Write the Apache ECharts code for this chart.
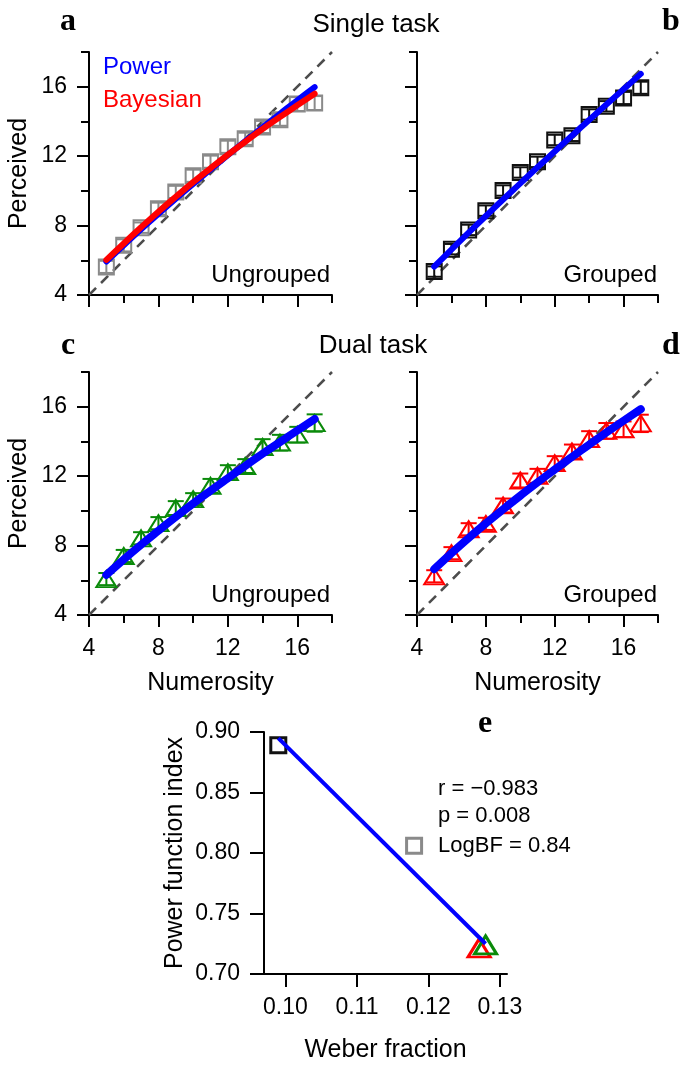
<!DOCTYPE html>
<html>
<head>
<meta charset="utf-8">
<script src="https://cdn.jsdelivr.net/npm/echarts@6/dist/echarts.min.js"></script>
<style>
html,body{margin:0;padding:0;background:#fff;}
#chart{width:685px;height:1075px;}
</style>
</head>
<body>
<div id="chart"></div>
<script>
// ---------------- data ----------------
const numerosity = [5, 6, 7, 8, 9, 10, 11, 12, 13, 14, 15, 16, 17];
const axisRange = [4, 18];
const majorTicks = [4, 8, 12, 16];
const minorTicks = [6, 10, 14, 18];

// panel a: single task, ungrouped (gray squares)
const singleUngrouped    = [5.62, 6.86, 7.88, 8.97, 9.94, 10.87, 11.68, 12.54, 13.0, 13.68, 14.1, 15.0, 15.06];
const singleUngroupedErr = [0.35, 0.35, 0.3, 0.35, 0.35, 0.35, 0.35, 0.35, 0.35, 0.35, 0.35, 0.4, 0.4];
const powerSingleUngrouped = [5.93, 6.87, 7.79, 8.68, 9.55, 10.40, 11.23, 12.06, 12.86, 13.66, 14.44, 15.22, 15.98];
const bayesSingleUngrouped = [6.02, 6.97, 7.90, 8.80, 9.66, 10.50, 11.30, 12.08, 12.83, 13.56, 14.25, 14.93, 15.60];

// panel b: single task, grouped (black squares)
const singleGrouped    = [5.35, 6.64, 7.75, 8.86, 10.02, 11.06, 11.67, 12.93, 13.17, 14.4, 14.87, 15.35, 15.94];
const singleGroupedErr = [0.3, 0.3, 0.3, 0.3, 0.3, 0.3, 0.3, 0.3, 0.3, 0.3, 0.3, 0.35, 0.35];
const powerSingleGrouped = [5.63, 6.62, 7.59, 8.55, 9.50, 10.43, 11.36, 12.27, 13.18, 14.08, 14.97, 15.86, 16.74];

// panel c: dual task, ungrouped (green triangles)
const dualUngrouped    = [6.07, 7.40, 8.42, 9.29, 10.16, 10.67, 11.44, 12.23, 12.58, 13.68, 13.93, 14.39, 15.06];
const dualUngroupedErr = [0.35, 0.35, 0.35, 0.35, 0.4, 0.35, 0.4, 0.4, 0.4, 0.45, 0.45, 0.45, 0.5];
const powerDualUngrouped = [6.31, 7.20, 8.05, 8.86, 9.65, 10.42, 11.16, 11.88, 12.59, 13.29, 13.96, 14.63, 15.29];

// panel d: dual task, grouped (red triangles)
const dualGrouped    = [6.23, 7.56, 8.94, 9.25, 10.31, 11.75, 12.02, 12.75, 13.42, 14.14, 14.61, 14.70, 15.04];
const dualGroupedErr = [0.35, 0.35, 0.35, 0.35, 0.4, 0.4, 0.4, 0.4, 0.4, 0.45, 0.45, 0.45, 0.5];
const powerDualGrouped = [6.64, 7.56, 8.44, 9.28, 10.09, 10.87, 11.64, 12.38, 13.10, 13.81, 14.51, 15.19, 15.86];

// panel e
const weberFraction = [0.099, 0.118, 0.1271, 0.1280];
const powerIndex    = [0.889, 0.806, 0.7215, 0.724];
const fitWeber = [0.099, 0.128];
const fitIndex = [0.895, 0.725];
const eXTicks = [0.10, 0.11, 0.12, 0.13];
const eYTicks = [0.70, 0.75, 0.80, 0.85, 0.90];
const eXRange = [0.097, 0.131];
const eYRange = [0.70, 0.90];

// ---------------- helpers ----------------
const SANS = "'Liberation Sans', Arial, sans-serif";
const SERIF = "'Liberation Serif', 'Times New Roman', serif";
const zip = (xs, ys) => xs.map((x, i) => [x, ys[i]]);
const zip3 = (xs, ys, es) => xs.map((x, i) => [x, ys[i], es[i]]);

const grids = [
  {left: 89,  top: 52,  width: 243, height: 243},
  {left: 417, top: 52,  width: 241, height: 243},
  {left: 89,  top: 372, width: 243, height: 243},
  {left: 417, top: 372, width: 241, height: 243},
  {left: 264, top: 732, width: 243, height: 242}
];

const axisLineStyle = {color: '#000', width: 2};
const labelStyle = {color: '#000', fontSize: 23, fontFamily: SANS};
const nameStyle = {color: '#000', fontSize: 25, fontFamily: SANS};

const xAxes = [], yAxes = [];
function addPanelAxes(gi, showXLabels, showYLabels, xName, yName) {
  xAxes.push({
    gridIndex: gi, type: 'value', min: axisRange[0], max: axisRange[1], position: 'bottom',
    axisLine: {show: true, onZero: false, lineStyle: axisLineStyle},
    axisTick: {show: true, length: 12, customValues: majorTicks, lineStyle: axisLineStyle},
    axisLabel: {show: showXLabels, customValues: majorTicks, margin: 22, ...labelStyle},
    splitLine: {show: false},
    name: xName, nameLocation: 'middle', nameGap: 56, nameTextStyle: nameStyle
  });
  xAxes.push({
    gridIndex: gi, type: 'value', min: axisRange[0], max: axisRange[1], position: 'bottom',
    axisLine: {show: false},
    axisTick: {show: true, length: 8, customValues: minorTicks, lineStyle: axisLineStyle},
    axisLabel: {show: false}, splitLine: {show: false}
  });
  yAxes.push({
    gridIndex: gi, type: 'value', min: axisRange[0], max: axisRange[1], position: 'left',
    axisLine: {show: true, onZero: false, lineStyle: axisLineStyle},
    axisTick: {show: true, length: 12, customValues: majorTicks, lineStyle: axisLineStyle},
    axisLabel: {show: showYLabels, customValues: majorTicks, margin: 22, ...labelStyle},
    splitLine: {show: false},
    name: yName, nameLocation: 'middle', nameGap: 57, nameTextStyle: nameStyle
  });
  yAxes.push({
    gridIndex: gi, type: 'value', min: axisRange[0], max: axisRange[1], position: 'left',
    axisLine: {show: false},
    axisTick: {show: true, length: 8, customValues: minorTicks, lineStyle: axisLineStyle},
    axisLabel: {show: false}, splitLine: {show: false}
  });
}
addPanelAxes(0, false, true, '', 'Perceived');
addPanelAxes(1, false, false, '', '');
addPanelAxes(2, true, true, 'Numerosity', 'Perceived');
addPanelAxes(3, true, false, 'Numerosity', '');

// panel e axes
xAxes.push({
  gridIndex: 4, type: 'value', min: eXRange[0], max: eXRange[1], position: 'bottom',
  axisLine: {show: true, onZero: false, lineStyle: axisLineStyle},
  axisTick: {show: true, length: 13, customValues: eXTicks, lineStyle: axisLineStyle},
  axisLabel: {customValues: eXTicks, margin: 22, formatter: v => v.toFixed(2), ...labelStyle},
  splitLine: {show: false},
  name: 'Weber fraction', nameLocation: 'middle', nameGap: 64, nameTextStyle: nameStyle
});
yAxes.push({
  gridIndex: 4, type: 'value', min: eYRange[0], max: eYRange[1], position: 'left',
  axisLine: {show: true, onZero: false, lineStyle: axisLineStyle},
  axisTick: {show: true, length: 14, customValues: eYTicks, lineStyle: axisLineStyle},
  axisLabel: {customValues: eYTicks, margin: 24, formatter: v => v.toFixed(2), ...labelStyle},
  splitLine: {show: false},
  name: 'Power function index', nameLocation: 'middle', nameGap: 76, nameTextStyle: nameStyle
});

function errRender(color, cap) {
  return function (params, api) {
    const x = api.value(0), y = api.value(1), e = api.value(2);
    const t = api.coord([x, y + e]);
    const b = api.coord([x, y - e]);
    const st = {stroke: color, lineWidth: 2, fill: null};
    return {type: 'group', children: [
      {type: 'line', shape: {x1: t[0], y1: t[1], x2: b[0], y2: b[1]}, style: st},
      {type: 'line', shape: {x1: t[0] - cap, y1: t[1], x2: t[0] + cap, y2: t[1]}, style: st},
      {type: 'line', shape: {x1: b[0] - cap, y1: b[1], x2: b[0] + cap, y2: b[1]}, style: st}
    ]};
  };
}

const series = [];
function addPanelSeries(gi, values, errs, color, symbol, symbolSize, cap, fits) {
  const xi = gi * 2, yi = gi * 2;
  series.push({
    type: 'line', xAxisIndex: xi, yAxisIndex: yi, data: zip(axisRange, axisRange),
    symbol: 'none', lineStyle: {color: '#4d4d4d', width: 2.6, type: [10, 7]}, z: 1, silent: true
  });
  series.push({
    type: 'custom', xAxisIndex: xi, yAxisIndex: yi, data: zip3(numerosity, values, errs),
    renderItem: errRender(color, cap), encode: {x: 0, y: 1}, z: 2, silent: true
  });
  series.push({
    type: 'scatter', xAxisIndex: xi, yAxisIndex: yi, data: zip(numerosity, values),
    symbol: symbol, symbolSize: symbolSize,
    itemStyle: {color: 'rgba(0,0,0,0)', borderColor: color, borderWidth: 2, opacity: 1}, z: 3
  });
  fits.forEach((f, k) => {
    series.push({
      type: 'line', xAxisIndex: xi, yAxisIndex: yi, data: zip(numerosity, f.values),
      smooth: true, symbol: 'none', lineStyle: {color: f.color, width: f.width, cap: 'round'}, z: 4 + k
    });
  });
}
addPanelSeries(0, singleUngrouped, singleUngroupedErr, '#8a8a8a', 'rect', 15, 7,
  [{values: powerSingleUngrouped, color: '#0000ff', width: 6}, {values: bayesSingleUngrouped, color: '#ff0000', width: 6}]);
addPanelSeries(1, singleGrouped, singleGroupedErr, '#111', 'rect', 15, 7,
  [{values: powerSingleGrouped, color: '#0000ff', width: 6}]);
addPanelSeries(2, dualUngrouped, dualUngroupedErr, '#0a8a0a', 'triangle', [20, 16], 8,
  [{values: powerDualUngrouped, color: '#0000ff', width: 8}]);
addPanelSeries(3, dualGrouped, dualGroupedErr, '#ff0000', 'triangle', [20, 16], 8,
  [{values: powerDualGrouped, color: '#0000ff', width: 8}]);

// panel e
const eColors = ['#111', '#8a8a8a', '#ff0000', '#0a8a0a'];
const eSymbols = ['rect', 'rect', 'triangle', 'triangle'];
const eSizes = [15, 15, [22, 18], [22, 18]];
series.push({
  type: 'line', xAxisIndex: 8, yAxisIndex: 8, data: zip(fitWeber, fitIndex),
  symbol: 'none', lineStyle: {color: '#0000ff', width: 4}, z: 5
});
weberFraction.forEach((w, i) => {
  series.push({
    type: 'scatter', xAxisIndex: 8, yAxisIndex: 8, data: [[w, powerIndex[i]]],
    symbol: eSymbols[i], symbolSize: eSizes[i],
    itemStyle: {color: 'rgba(0,0,0,0)', borderColor: eColors[i], borderWidth: 3, opacity: 1}, z: 3
  });
});

function txt(text, x, y, opts) {
  return {type: 'text', x: x, y: y, silent: true, style: Object.assign({
    text: text, fill: '#000', font: '24px ' + SANS, align: 'left', verticalAlign: 'middle'
  }, opts || {})};
}
const letterFont = 'bold 32px ' + SERIF;
const graphics = [
  txt('a', 68, 22, {font: letterFont, align: 'center'}),
  txt('b', 671, 22, {font: letterFont, align: 'center'}),
  txt('c', 68, 346, {font: letterFont, align: 'center'}),
  txt('d', 671, 346, {font: letterFont, align: 'center'}),
  txt('e', 485, 724, {font: letterFont, align: 'center'}),
  txt('Single task', 376, 25, {align: 'center', font: '26px ' + SANS}),
  txt('Dual task', 373, 346, {align: 'center', font: '26px ' + SANS}),
  txt('Power', 103, 67, {fill: '#0000ff'}),
  txt('Bayesian', 103, 100, {fill: '#ff0000'}),
  txt('Ungrouped', 330, 275, {align: 'right'}),
  txt('Grouped', 657, 275, {align: 'right'}),
  txt('Ungrouped', 330, 595, {align: 'right'}),
  txt('Grouped', 657, 595, {align: 'right'}),
  txt('r = \u22120.983', 438, 789, {font: '22px ' + SANS}),
  txt('p = 0.008', 438, 816, {font: '22px ' + SANS}),
  txt('LogBF = 0.84', 438, 846, {font: '22px ' + SANS})
];

const chart = echarts.init(document.getElementById('chart'), null, {renderer: 'canvas'});
chart.setOption({
  animation: false,
  backgroundColor: '#fff',
  grid: grids.map(g => Object.assign({containLabel: false, outerBoundsMode: 'none'}, g)),
  xAxis: xAxes,
  yAxis: yAxes,
  series: series,
  graphic: graphics
});
</script>
</body>
</html>
